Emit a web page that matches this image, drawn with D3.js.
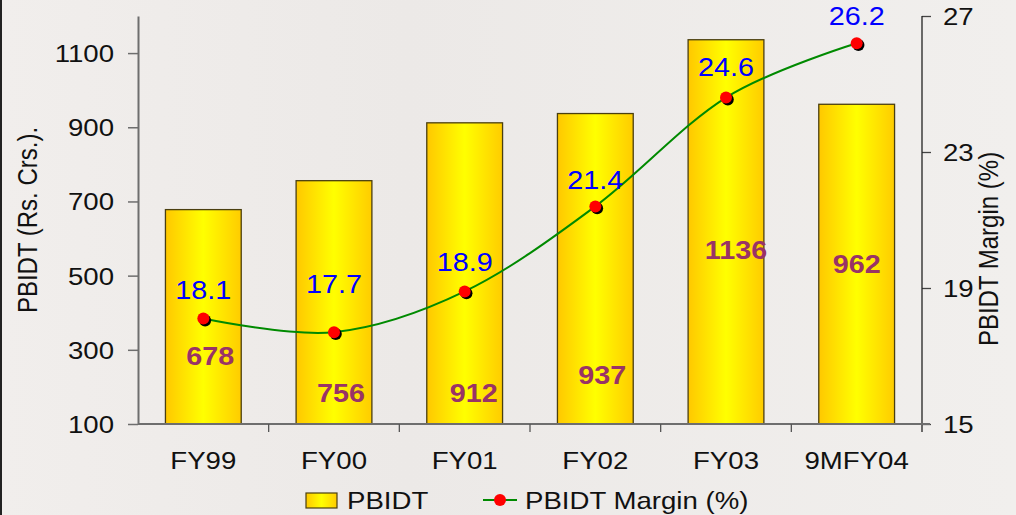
<!DOCTYPE html>
<html>
<head>
<meta charset="utf-8">
<script src="https://cdn.jsdelivr.net/npm/d3@7"></script>
<style>
  html, body { margin: 0; padding: 0; background: #eeebe9; }
  svg { display: block; }
  text { font-family: "Liberation Sans", Arial, sans-serif; }
</style>
</head>
<body>
<svg id="chart" width="1016" height="515"></svg>
<script>
// ---- data ----
const categories = ["FY99", "FY00", "FY01", "FY02", "FY03", "9MFY04"];
const pbidt = [678, 756, 912, 937, 1136, 962];
const margin = [18.1, 17.7, 18.9, 21.4, 24.6, 26.2];
const leftTicks = [100, 300, 500, 700, 900, 1100];
const rightTicks = [15, 19, 23, 27];
// label anchors (in axis units) as placed in the original
const barLabelAt = [283, 184, 184, 232, 569, 531];
const barLabelDx = [7, 7, 9, 7, 10, 0];
const marginLabelAt = [18.93, 19.1, 19.77, 22.18, 25.5, 26.98];

// ---- layout ----
const W = 1016, H = 515;
const X0 = 138, X1 = 922, YT = 16, YB = 424;
const SX = 1.15; // horizontal stretch of text in the original
const FS = 24;

const svg = d3.select("#chart");

// background
svg.append("rect").attr("width", W).attr("height", H).attr("fill", "#eeebe9");
const bgGrad = svg.append("defs").append("linearGradient").attr("id", "bgGrad")
  .attr("x1", "0%").attr("x2", "100%").attr("y1", "0%").attr("y2", "0%");
bgGrad.append("stop").attr("offset", "0%").attr("stop-color", "#f1eeec");
bgGrad.append("stop").attr("offset", "40%").attr("stop-color", "#ece9e7");
bgGrad.append("stop").attr("offset", "100%").attr("stop-color", "#f1efed");
svg.append("rect").attr("width", W).attr("height", H).attr("fill", "url(#bgGrad)");
svg.append("line").attr("x1", 1).attr("x2", 1).attr("y1", 0).attr("y2", H)
  .attr("stroke", "#222").attr("stroke-width", 2);

const defs = svg.append("defs");
const grad = defs.append("linearGradient").attr("id", "barGrad")
  .attr("x1", "0%").attr("x2", "100%").attr("y1", "0%").attr("y2", "0%");
grad.append("stop").attr("offset", "0%").attr("stop-color", "#ffc800");
grad.append("stop").attr("offset", "50%").attr("stop-color", "#ffff00");
grad.append("stop").attr("offset", "100%").attr("stop-color", "#ffcc00");

// scales
const x = d3.scaleBand().domain(categories).range([X0, X1])
  .paddingInner(0.42).paddingOuter(0.21);
const slot = d3.scaleLinear().domain([0, categories.length]).range([X0, X1]);
const yL = d3.scaleLinear().domain([100, 1200]).range([YB, YT]);
const yR = d3.scaleLinear().domain([15, 27]).range([YB, YT]);
const cx = d => x(d) + x.bandwidth() / 2;

function stretchedText(g, tx, ty, str, opts = {}) {
  const t = g.append("text")
    .attr("transform", `translate(${tx},${ty}) scale(${SX},1)` + (opts.rotate ? ` rotate(${opts.rotate})` : ""))
    .attr("text-anchor", opts.anchor || "middle")
    .attr("font-size", opts.size || FS)
    .attr("font-weight", opts.weight || "normal")
    .attr("fill", opts.fill || "#111")
    .attr("dy", opts.dy || "0.35em")
    .text(str);
  return t;
}

// bars
svg.append("g").selectAll("rect").data(categories).join("rect")
  .attr("x", d => x(d))
  .attr("y", (d, i) => yL(pbidt[i]))
  .attr("width", x.bandwidth())
  .attr("height", (d, i) => yL(100) - yL(pbidt[i]))
  .attr("fill", "url(#barGrad)")
  .attr("stroke", "#4a3f10")
  .attr("stroke-width", 1.3);

// left axis
const gL = svg.append("g").attr("transform", `translate(${X0},0)`)
  .call(d3.axisLeft(yL).tickValues(leftTicks).tickFormat(d3.format("d")).tickSize(10).tickSizeOuter(0));
gL.select(".domain").attr("stroke", "#6e6e6e").attr("stroke-width", 2);
gL.selectAll(".tick line").attr("stroke", "#6e6e6e").attr("stroke-width", 1.5);
gL.selectAll(".tick text")
  .attr("x", -24 / SX).attr("dy", "0.35em")
  .attr("transform", `scale(${SX},1)`)
  .attr("font-size", FS).attr("font-family", "Liberation Sans, Arial, sans-serif")
  .attr("fill", "#111");

// right axis
const gR = svg.append("g").attr("transform", `translate(${X1},0)`)
  .call(d3.axisRight(yR).tickValues(rightTicks).tickFormat(d3.format("d")).tickSize(9).tickSizeOuter(0));
gR.select(".domain").remove();
gR.selectAll(".tick line").attr("stroke", "#444").attr("stroke-width", 1.3);
gR.selectAll(".tick text")
  .attr("x", 21 / SX).attr("dy", "0.35em")
  .attr("transform", `scale(${SX},1)`)
  .attr("font-size", FS).attr("font-family", "Liberation Sans, Arial, sans-serif")
  .attr("fill", "#111");
svg.append("line").attr("x1", X1).attr("x2", X1).attr("y1", YT).attr("y2", YB + 8)
  .attr("stroke", "#222").attr("stroke-width", 1.3);

// x axis line + ticks at category boundaries
svg.append("line").attr("x1", X0).attr("x2", X1 + 8).attr("y1", YB).attr("y2", YB)
  .attr("stroke", "#6e6e6e").attr("stroke-width", 2);
svg.append("g").selectAll("line").data(d3.range(1, categories.length)).join("line")
  .attr("x1", d => slot(d)).attr("x2", d => slot(d))
  .attr("y1", YB).attr("y2", YB + 8)
  .attr("stroke", "#555").attr("stroke-width", 1.3);

// category labels
const gX = svg.append("g");
categories.forEach(c => stretchedText(gX, cx(c), 461, c));

// axis titles
stretchedText(svg, 27, 220, "PBIDT (Rs. Crs.).", { rotate: -90 });
stretchedText(svg, 988, 249, "PBIDT Margin (%)", { rotate: -90 });

// margin line
const line = d3.line()
  .x((d, i) => cx(categories[i]))
  .y(d => yR(d))
  .curve(d3.curveCardinal.tension(0));
svg.append("path").datum(margin).attr("d", line)
  .attr("fill", "none").attr("stroke", "#008a00").attr("stroke-width", 2);

// markers with shadow
const gM = svg.append("g");
gM.selectAll("circle.shadow").data(margin).join("circle").attr("class", "shadow")
  .attr("cx", (d, i) => cx(categories[i]) + 1.8).attr("cy", d => yR(d) + 1.8)
  .attr("r", 6).attr("fill", "#000");
gM.selectAll("circle.dot").data(margin).join("circle").attr("class", "dot")
  .attr("cx", (d, i) => cx(categories[i])).attr("cy", d => yR(d))
  .attr("r", 6).attr("fill", "#ff0000");

// bar value labels
const gB = svg.append("g");
pbidt.forEach((v, i) => stretchedText(gB, cx(categories[i]) + barLabelDx[i], yL(barLabelAt[i]), v,
  { weight: "bold", fill: "#993366", size: 25 }));

// margin labels
const gT = svg.append("g");
margin.forEach((v, i) => stretchedText(gT, cx(categories[i]), yR(marginLabelAt[i]), v.toFixed(1),
  { fill: "#0000ff", size: 25 }));

// legend
const lg = svg.append("g");
lg.append("rect").attr("x", 306).attr("y", 493).attr("width", 31).attr("height", 15)
  .attr("fill", "url(#barGrad)").attr("stroke", "#4a3f10").attr("stroke-width", 1.2);
stretchedText(lg, 347, 501, "PBIDT", { anchor: "start" });
lg.append("line").attr("x1", 483).attr("x2", 517).attr("y1", 500).attr("y2", 500)
  .attr("stroke", "#008a00").attr("stroke-width", 2);
lg.append("circle").attr("cx", 500).attr("cy", 500).attr("r", 6).attr("fill", "#ff0000");
stretchedText(lg, 525, 501, "PBIDT Margin (%)", { anchor: "start" });
</script>
</body>
</html>
